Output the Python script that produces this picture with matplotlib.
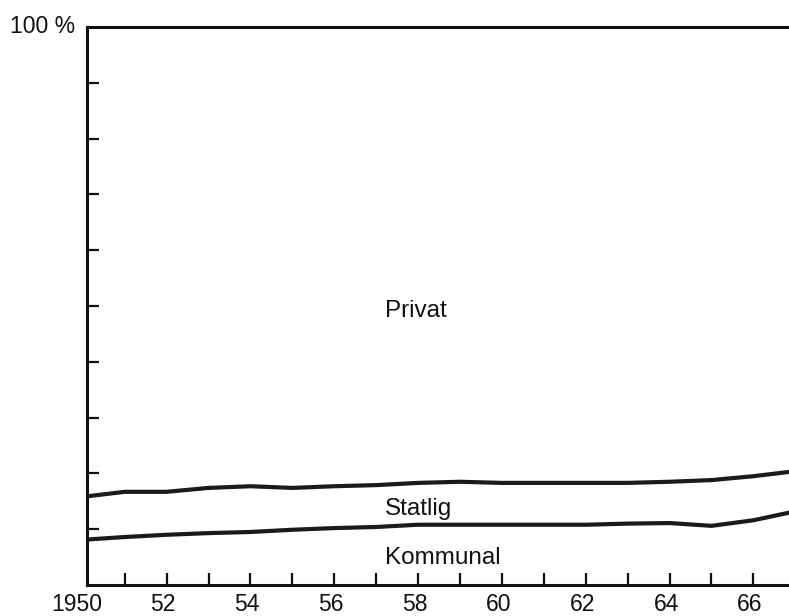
import matplotlib
matplotlib.use("Agg")
import matplotlib.pyplot as plt
from matplotlib.ticker import FixedLocator, NullFormatter

plt.rcParams['font.family'] = ['Liberation Sans', 'DejaVu Sans']

years = [1950, 1951, 1952, 1953, 1954, 1955, 1956, 1957, 1958, 1959,
         1960, 1961, 1962, 1963, 1964, 1965, 1966, 1967]
# cumulative share: Kommunal (lower line)
kommunal = [8.1, 8.6, 9.0, 9.3, 9.5, 9.9, 10.2, 10.4, 10.8, 10.8,
            10.8, 10.8, 10.8, 11.0, 11.1, 10.6, 11.6, 13.2]
# cumulative share: Kommunal + Statlig (upper line)
statlig_top = [15.8, 16.7, 16.7, 17.4, 17.7, 17.4, 17.7, 17.9, 18.3, 18.5,
               18.3, 18.3, 18.3, 18.3, 18.5, 18.8, 19.5, 20.4]
tick_years = list(range(1950, 1967))
label_years = [1950, 1952, 1954, 1956, 1958, 1960, 1962, 1964, 1966]
label_texts = ['1950', '52', '54', '56', '58', '60', '62', '64', '66']
y_ticks = [10, 20, 30, 40, 50, 60, 70, 80, 90]

W, H = 789, 616
fig = plt.figure(figsize=(W / 100, H / 100), dpi=100)
ax = fig.add_axes([87 / W, 1 - 585 / H, (W - 87) / W, (585 - 27) / H])

ax.plot(years, kommunal, color='#1a1a1a', lw=3.0, solid_capstyle='butt')
ax.plot(years, statlig_top, color='#1a1a1a', lw=3.0, solid_capstyle='butt')

ax.set_xlim(1950.1, 1966.85)
ax.set_ylim(0, 100)

for s in ['left', 'bottom', 'top']:
    ax.spines[s].set_linewidth(2.2)
    ax.spines[s].set_color('#111111')
ax.spines['right'].set_visible(False)

ax.xaxis.set_major_locator(FixedLocator(tick_years))
ax.xaxis.set_major_formatter(NullFormatter())
ax.yaxis.set_major_locator(FixedLocator(y_ticks))
ax.yaxis.set_major_formatter(NullFormatter())
ax.tick_params(axis='both', direction='in', length=8.5, width=1.6, color='#111111')

for yr, t in zip(label_years, label_texts):
    ax.text(yr - 0.08 if yr > 1950 else yr - 0.15, -4.6, t, ha='center', va='baseline',
            fontsize=16.5, color='#111111')

ax.text(-0.017, 98.9, '100 %', transform=ax.get_yaxis_transform(), ha='right',
        va='baseline', fontsize=16.5, color='#111111')

ax.text(1957.2, 49.1, 'Privat', ha='left', va='center', fontsize=17.5, color='#111111')
ax.text(1957.2, 13.6, 'Statlig', ha='left', va='center', fontsize=17.5, color='#111111')
ax.text(1957.2, 4.9, 'Kommunal', ha='left', va='center', fontsize=17.5, color='#111111')

fig.savefig('out.png', dpi=100)
